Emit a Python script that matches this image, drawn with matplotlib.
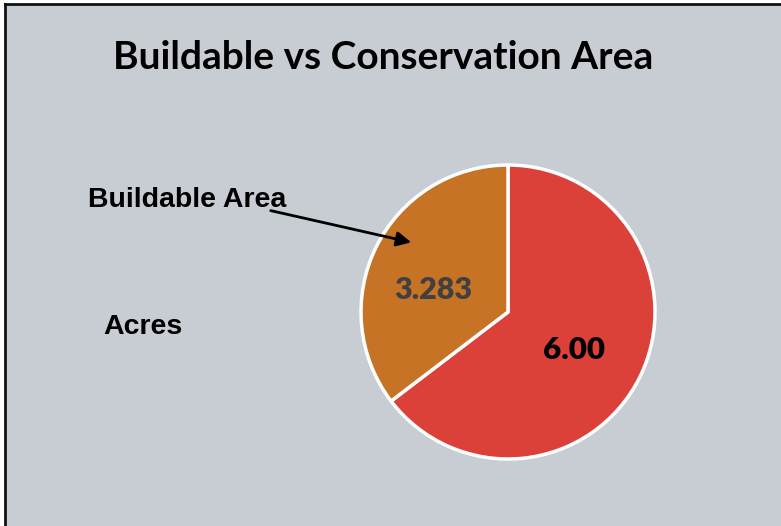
import matplotlib.pyplot as plt
from matplotlib.patches import FancyArrowPatch

# data
areas = ['Conservation Area', 'Buildable Area']
acres = [6.00, 3.283]
value_labels = ['6.00', '3.283']
slice_colors = ['#DB4139', '#C67325']
label_colors = ['#000000', '#404040']

bg = '#C8CCD3'
W, H = 781, 526

fig = plt.figure(figsize=(W / 100, H / 100), dpi=100)
fig.patch.set_facecolor('white')

# gray panel with border on top and left only
panel = fig.add_axes([5 / W, 0, 1 - 5 / W, 1 - 4 / H])
panel.set_facecolor(bg)
panel.set_xticks([])
panel.set_yticks([])
for side in ['right', 'bottom']:
    panel.spines[side].set_visible(False)
for side in ['top', 'left']:
    panel.spines[side].set_linewidth(2)
    panel.spines[side].set_color('#111111')

# pie axes placed over the pie area (center 508,312 r=147 px)
cx, cy, r = 508, 312, 147
ax = fig.add_axes([(cx - r) / W, 1 - (cy + r) / H, 2 * r / W, 2 * r / H])
ax.set_facecolor('none')
wedges, _ = ax.pie(acres, colors=slice_colors, startangle=90, counterclock=False,
                   wedgeprops=dict(edgecolor='white', linewidth=2.5),
                   labels=None, radius=1)
for w in wedges:
    w.set_clip_on(False)
ax.set_xlim(-1, 1)
ax.set_ylim(-1, 1)
ax.set_aspect('equal')
ax.axis('off')

# value labels inside slices
ax.text(0.45, -0.26, value_labels[0], ha='center', va='center',
        fontsize=22.5, fontweight='heavy', family='Lato', color=label_colors[0])
ax.text(-0.51, 0.15, value_labels[1], ha='center', va='center',
        fontsize=22, fontweight='heavy', family='Lato', color=label_colors[1])

# title and side texts
fig.text(383 / W, 1 - 58 / H, 'Buildable vs Conservation Area', ha='center', va='center',
         fontsize=28, fontweight='bold', family='Lato')
fig.text(88 / W, 1 - 200 / H, areas[1], ha='left', va='center',
         fontsize=20.5, fontweight='bold', family='Liberation Sans')
fig.text(103 / W, 1 - 327 / H, 'Acres', ha='left', va='center',
         fontsize=20.5, fontweight='bold', family='Liberation Sans')

# arrow pointing into buildable slice
fig.add_artist(FancyArrowPatch(
    (268 / W, 1 - 210 / H), (414 / W, 1 - 243 / H), transform=fig.transFigure,
    arrowstyle='-|>', mutation_scale=22, color='black', linewidth=2))

fig.savefig('out.png', dpi=100, facecolor=fig.get_facecolor())
